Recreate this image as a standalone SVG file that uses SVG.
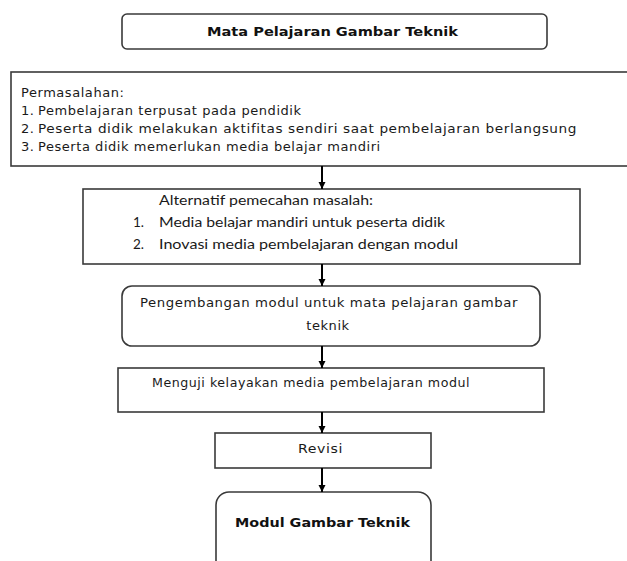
<svg xmlns="http://www.w3.org/2000/svg" width="627" height="561" viewBox="0 0 627 561">
<style>
.box{fill:#fff;stroke:#3a3a3a;stroke-width:1.6}
.t{font-family:"DejaVu Sans","Liberation Sans",sans-serif;font-size:13px;letter-spacing:0.55px;fill:#1a1a1a}
.c{font-family:"Lato","Open Sans","Liberation Sans",sans-serif;font-size:13.5px;fill:#1a1a1a}
.b{font-family:"DejaVu Sans","Liberation Sans",sans-serif;font-size:13px;font-weight:bold;fill:#111}
.conn{stroke:#000;stroke-width:2;fill:none}
</style>
<defs>
<marker id="ah" markerWidth="8" markerHeight="8" refX="7" refY="3.5" orient="auto" markerUnits="userSpaceOnUse">
<path d="M0,0 L7,3.5 L0,7 z" fill="#000"/>
</marker>
</defs>
<rect width="627" height="561" fill="#fff"/>
<g id="n1">
<rect class="box" x="122" y="14" width="425" height="35" rx="5"/>
<text class="b" x="207" y="36" textLength="251" lengthAdjust="spacingAndGlyphs">Mata Pelajaran Gambar Teknik</text>
</g>
<g id="n2">
<rect class="box" x="11" y="72" width="640" height="94"/>
<text class="t" x="21" y="97">Permasalahan:</text>
<text class="t" x="21" y="115">1.</text>
<text class="t" x="38" y="115">Pembelajaran terpusat pada pendidik</text>
<text class="t" x="21" y="133">2.</text>
<text class="t" x="38" y="133" textLength="539" lengthAdjust="spacingAndGlyphs">Peserta didik melakukan aktifitas sendiri saat pembelajaran berlangsung</text>
<text class="t" x="21" y="151">3.</text>
<text class="t" x="38" y="151">Peserta didik memerlukan media belajar mandiri</text>
</g>
<g id="n3">
<rect class="box" x="83" y="189" width="497" height="75"/>
<text class="c" x="159" y="205" textLength="214" lengthAdjust="spacingAndGlyphs">Alternatif pemecahan masalah:</text>
<text class="c" x="133" y="227">1.</text>
<text class="c" x="159" y="227" textLength="286" lengthAdjust="spacingAndGlyphs">Media belajar mandiri untuk peserta didik</text>
<text class="c" x="133" y="249">2.</text>
<text class="c" x="159" y="249" textLength="299" lengthAdjust="spacingAndGlyphs">Inovasi media pembelajaran dengan modul</text>
</g>
<g id="n4">
<rect class="box" x="122" y="286" width="418" height="60" rx="10"/>
<text class="t" x="140" y="307" textLength="378" lengthAdjust="spacingAndGlyphs">Pengembangan modul untuk mata pelajaran gambar</text>
<text class="t" x="328" y="330" text-anchor="middle">teknik</text>
</g>
<g id="n5">
<rect class="box" x="118" y="368" width="426" height="44"/>
<text class="t" x="152" y="387" textLength="318" lengthAdjust="spacingAndGlyphs">Menguji kelayakan media pembelajaran modul</text>
</g>
<g id="n6">
<rect class="box" x="215" y="433" width="216" height="35"/>
<text class="t" x="298" y="453" textLength="45" lengthAdjust="spacingAndGlyphs">Revisi</text>
</g>
<g id="n7">
<rect class="box" x="216" y="492" width="215" height="90" rx="13"/>
<text class="b" x="235" y="527" textLength="175" lengthAdjust="spacingAndGlyphs">Modul Gambar Teknik</text>
</g>
<g id="connectors">
<line class="conn" x1="322" y1="166" x2="322" y2="189" marker-end="url(#ah)"/>
<line class="conn" x1="322" y1="264" x2="322" y2="286" marker-end="url(#ah)"/>
<line class="conn" x1="322" y1="346" x2="322" y2="368" marker-end="url(#ah)"/>
<line class="conn" x1="322" y1="412" x2="322" y2="433" marker-end="url(#ah)"/>
<line class="conn" x1="322" y1="468" x2="322" y2="492" marker-end="url(#ah)"/>
</g>
</svg>
